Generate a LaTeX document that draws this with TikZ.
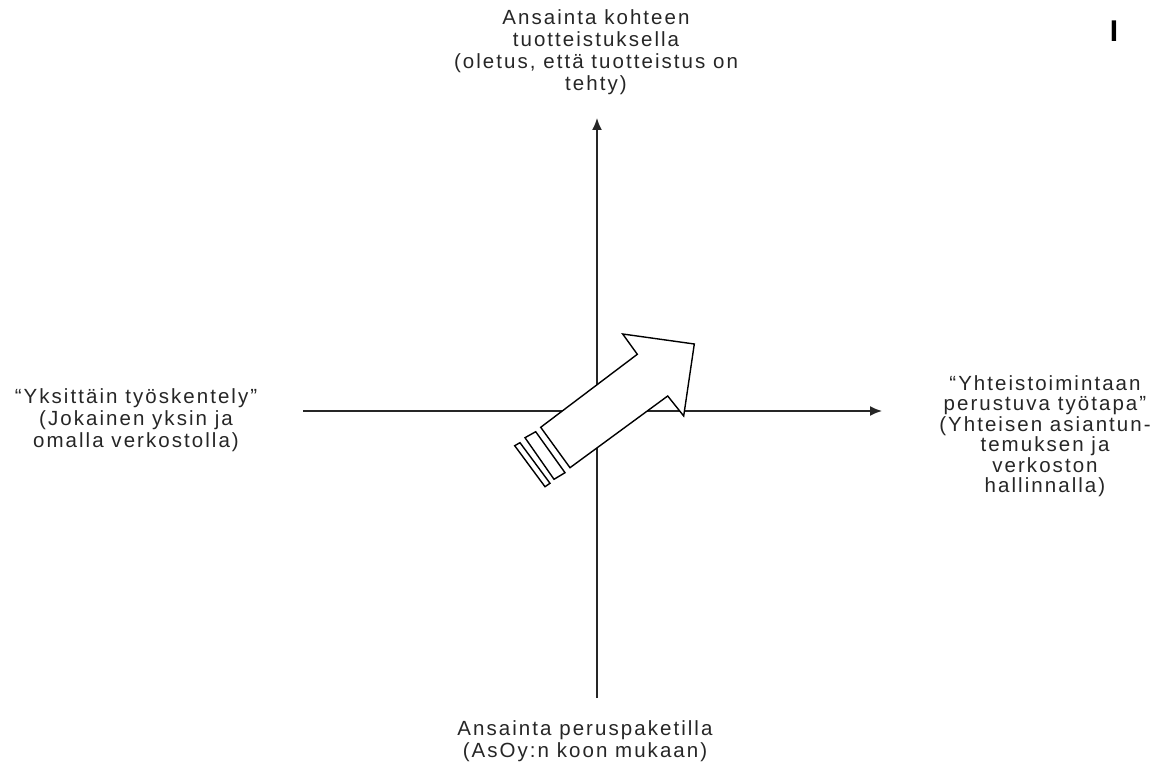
\documentclass[tikz,border=0pt]{standalone}
\usepackage{fontspec}
\setmainfont{Liberation Sans}[LetterSpace=10]
\newfontfamily\plainfont{Liberation Sans}
\usetikzlibrary{arrows.meta}
\begin{document}
\begin{tikzpicture}[x=1pt,y=-1pt]
\useasboundingbox (0,0) rectangle (1171,767);
\tikzset{
  lbl/.style={align=center, font=\fontsize{20.5}{22}\selectfont, inner sep=0pt, text=black!85},
  axis/.style={line width=1.6pt, draw=black!85, -{Latex[length=12pt,width=10pt]}},
  bigarrow/.style={draw=black, line width=1.4pt, fill=white, line join=miter}
}
% texts
\node[lbl] (top) at (596,52) {Ansainta kohteen\\tuotteistuksella\\(oletus, että tuotteistus on\\tehty)};
\node[lbl] (bottom) at (585,741) {Ansainta peruspaketilla\\(AsOy:n koon mukaan)};
\node[lbl] (left) at (136,420) {“Yksittäin työskentely”\\(Jokainen yksin ja\\omalla verkostolla)};
\node[lbl, font=\fontsize{20.5}{20.5}\selectfont] (right) at (1045,436) {“Yhteistoimintaan\\perustuva työtapa”\\(Yhteisen asiantun-\\temuksen ja\\verkoston\\hallinnalla)};
\node[inner sep=0pt] (cursor) at (1114,31) {\plainfont\fontsize{30}{30}\selectfont\bfseries I};
% axes
\coordinate (vb) at (597,698);
\coordinate (vt) at (597,118);
\coordinate (hl) at (303,411);
\coordinate (hr) at (882,411);
\draw[axis] (vb) -- (vt);
\draw[axis] (hl) -- (hr);
% big arrow
\draw[bigarrow] (694.3,344) -- (622.7,334) -- (637.3,354.3) -- (540.7,427.3) -- (570,467.7) -- (667.7,396) -- (683.7,416) -- cycle;
\draw[bigarrow] (525,437.7) -- (535.7,431.7) -- (565,472.7) -- (554,479.3) -- cycle;
\draw[bigarrow] (514.7,445.7) -- (520,442.7) -- (550,483.3) -- (545,486.7) -- cycle;
\end{tikzpicture}
\end{document}
